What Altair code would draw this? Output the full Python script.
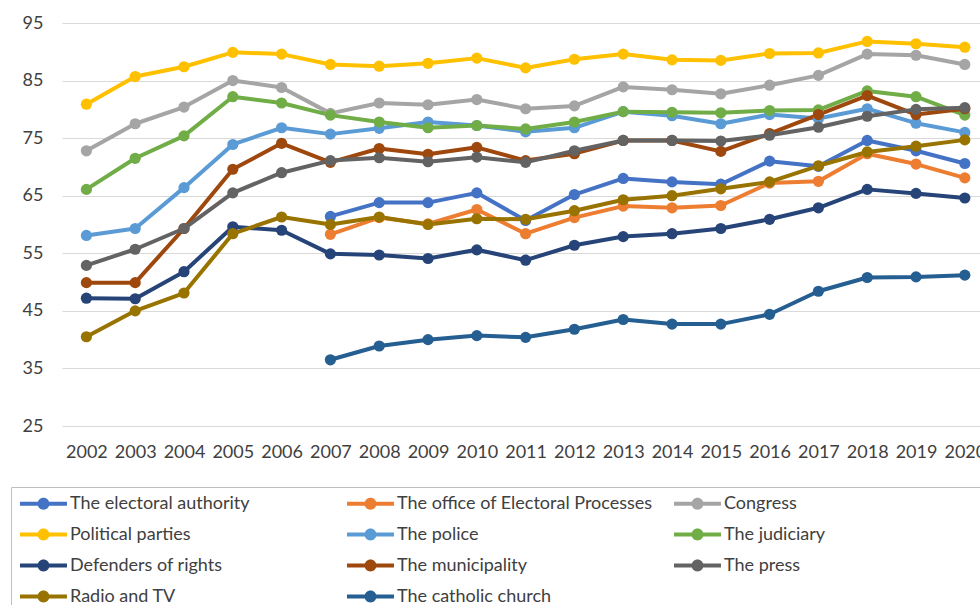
import altair as alt
import pandas as pd

years = list(range(2002, 2021))

series_names = [
    "The electoral authority",
    "The office of Electoral Processes",
    "Congress",
    "Political parties",
    "The police",
    "The judiciary",
    "Defenders of rights",
    "The municipality",
    "The press",
    "Radio and TV",
    "The catholic church",
]
series_colors = [
    "#4472C4", "#ED7D31", "#A5A5A5", "#FFC000", "#5B9BD5", "#70AD47",
    "#264478", "#9E480E", "#636363", "#997300", "#255E91",
]

electoral = [None, None, None, None, None,
             61.4, 63.8, 63.8, 65.5, 60.7, 65.2, 68.0, 67.4, 67.0, 71.0, 70.1, 74.6, 72.8, 70.6]
office = [None, None, None, None, None,
          58.3, 61.2, 60.1, 62.6, 58.4, 61.2, 63.2, 62.9, 63.3, 67.2, 67.5, 72.3, 70.5, 68.1]
congress = [72.8, 77.5, 80.4, 85.0, 83.8, 79.3, 81.1, 80.8, 81.7, 80.1,
            80.6, 83.9, 83.4, 82.7, 84.2, 85.9, 89.6, 89.4, 87.8]
parties = [80.9, 85.7, 87.4, 89.9, 89.6, 87.8, 87.5, 88.0, 88.9, 87.2,
           88.7, 89.6, 88.6, 88.5, 89.7, 89.8, 91.8, 91.4, 90.8]
police = [58.1, 59.3, 66.4, 73.9, 76.8, 75.7, 76.7, 77.8, 77.2, 76.1,
          76.8, 79.6, 78.9, 77.5, 79.1, 78.4, 80.1, 77.6, 76.0]
judiciary = [66.1, 71.5, 75.4, 82.2, 81.1, 79.0, 77.8, 76.8, 77.2, 76.6,
             77.8, 79.6, 79.5, 79.4, 79.8, 79.9, 83.2, 82.2, 79.0]
defenders = [47.2, 47.1, 51.8, 59.6, 59.0, 54.9, 54.7, 54.1, 55.6, 53.8,
             56.4, 57.9, 58.4, 59.3, 60.9, 62.9, 66.1, 65.4, 64.6]
municipality = [49.9, 49.9, 59.3, 69.6, 74.1, 70.8, 73.2, 72.2, 73.4, 71.1,
                72.3, 74.6, 74.6, 72.7, 75.8, 79.1, 82.4, 79.1, 80.1]
press = [52.9, 55.7, 59.3, 65.5, 69.0, 71.1, 71.6, 70.9, 71.7, 70.8,
         72.8, 74.6, 74.6, 74.5, 75.5, 76.9, 78.8, 80.0, 80.3]
radio_tv = [40.5, 45.0, 48.1, 58.4, 61.3, 60.0, 61.3, 60.0, 61.0, 60.9,
            62.4, 64.3, 65.0, 66.2, 67.4, 70.2, 72.6, 73.6, 74.7]
church = [None, None, None, None, None,
          36.5, 38.9, 40.0, 40.7, 40.4, 41.8, 43.5, 42.7, 42.7, 44.4, 48.4, 50.8, 50.9, 51.2]

y_ticks = [25, 35, 45, 55, 65, 75, 85, 95]

all_values = [electoral, office, congress, parties, police, judiciary,
              defenders, municipality, press, radio_tv, church]

rows = []
for order, (name, vals) in enumerate(zip(series_names, all_values)):
    for yr, v in zip(years, vals):
        if v is not None:
            rows.append({"series": name, "order": order, "year": yr, "value": v})
df = pd.DataFrame(rows)

FONT = "Lato"
TXT = "#404040"

x_enc = alt.X(
    "year:Q",
    scale=alt.Scale(domain=[2001.5, 2020.311], nice=False, zero=False),
    axis=alt.Axis(values=years, format="d", title=None, grid=False, ticks=False,
                  domain=False, labelFlush=False, labelOverlap=False, labelPadding=17,
                  labelFont=FONT, labelFontSize=18, labelColor=TXT),
)
y_enc = alt.Y(
    "value:Q",
    scale=alt.Scale(domain=[25, 95], nice=False, zero=False),
    axis=alt.Axis(values=y_ticks, title=None, grid=True, gridColor="#D9D9D9",
                  gridWidth=1, ticks=False, domain=False, labelPadding=19,
                  labelFont=FONT, labelFontSize=18, labelColor=TXT),
)
color_scale = alt.Scale(domain=series_names, range=series_colors)

sym_path = ("M-2.47,-0.2 L2.47,-0.2 L2.47,0.2 L-2.47,0.2 Z "
            "M0.63,0 A0.63,0.63 0 1,1 -0.63,0 A0.63,0.63 0 1,1 0.63,0 Z")

lines = alt.Chart(df).mark_line(strokeWidth=4, strokeJoin="round").encode(
    x=x_enc, y=y_enc,
    color=alt.Color("series:N", scale=color_scale, legend=None),
    order="year:Q",
)
points = alt.Chart(df).mark_circle(size=125, opacity=1).encode(
    x=x_enc, y=y_enc,
    color=alt.Color(
        "series:N", scale=color_scale,
        legend=alt.Legend(
            title=None, orient="none", legendX=-51, legendY=464, columns=3,
            direction="horizontal", gridAlign="all", symbolType=sym_path,
            symbolSize=361, symbolStrokeWidth=0, symbolOffset=16, labelOffset=17,
            rowPadding=12, columnPadding=19, padding=7,
            labelFont=FONT, labelFontSize=18, labelColor=TXT, labelLimit=500,
        ),
    ),
)

# legend frame (left and top edges visible; the rest runs off the page)
frame = alt.Chart(pd.DataFrame({"frame": [0]})).mark_rect(
    fill=None, stroke="#BFBFBF", strokeWidth=1
).encode(
    x=alt.value(-50.5), x2=alt.value(960), y=alt.value(464.5), y2=alt.value(640)
)

chart = alt.layer(lines, points, frame).resolve_legend(color="independent").properties(
    width=918, height=403,
    autosize=alt.AutoSizeParams(type="none"),
    padding={"left": 62, "top": 23, "right": 0, "bottom": 179},
).configure_view(stroke=None)

chart.save("out.html", embed_options={"renderer": "svg", "actions": False})
